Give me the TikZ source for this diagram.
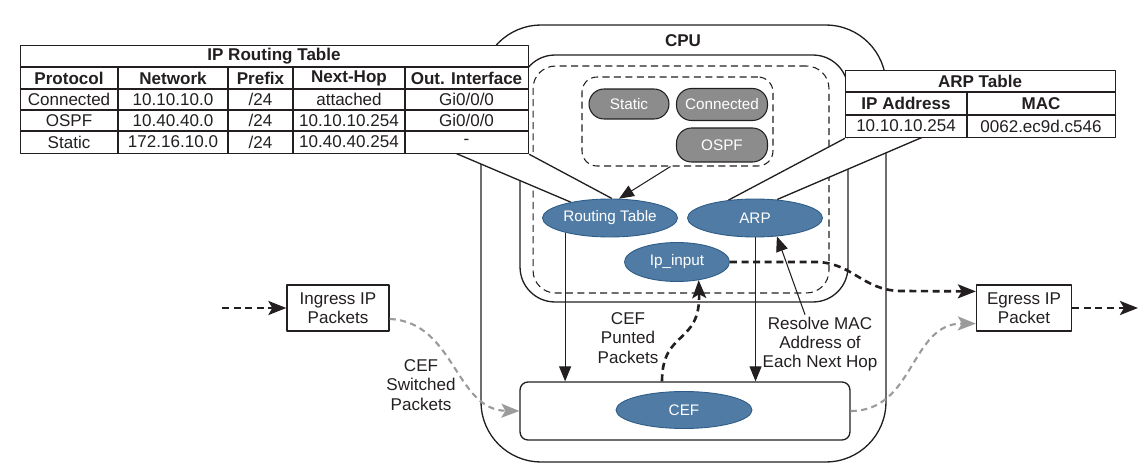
\documentclass[tikz,border=0pt]{standalone}
\usepackage{fontspec}
\setmainfont{Liberation Sans}
\definecolor{cInk}{HTML}{231F20}
\definecolor{cBlue}{HTML}{4F7BA4}
\definecolor{cBlueEdge}{HTML}{2E5C86}
\definecolor{cPill}{HTML}{8C8C8C}
\definecolor{cFlow}{HTML}{9B9B9B}
\usetikzlibrary{arrows.meta, shapes.geometric, backgrounds}
\newcommand{\lbl}{\fontsize{9.7}{11}\selectfont}
\newcommand{\sml}{\fontsize{8.7}{10}\selectfont}

\begin{document}
\begin{tikzpicture}[x=0.02cm, y=-0.02cm, line join=round,
    frame/.style={draw=cInk, line width=0.75pt},
    guide/.style={draw=cInk, line width=0.6pt, dash pattern=on 4pt off 2.5pt},
    blob/.style={ellipse, draw=cBlueEdge, line width=0.5pt, fill=cBlue, text=white, font=\sml, inner sep=0pt},
    pill/.style={draw=cInk, line width=0.6pt, fill=cPill, text=white, font=\sml, rounded corners=0.3cm,
                 minimum width=1.82cm, inner sep=0pt},
    pkt/.style={frame, fill=white, font=\lbl, text=cInk, align=center, inner sep=0pt, minimum height=0.92cm},
    cell/.style={font=\lbl, text=cInk, inner sep=0pt},
    head/.style={font=\lbl\bfseries, text=cInk, inner sep=0pt},
    note/.style={font=\lbl, text=cInk, align=center, inner sep=1pt},
    feed/.style={draw=cInk, line width=0.6pt, -{Triangle[length=0.3cm, width=0.24cm]}},
    flow/.style={draw=cInk, line width=1.5pt, dash pattern=on 4pt off 2.6pt,
                 -{Stealth[length=0.36cm, width=0.28cm, inset=0.08cm]}},
    gflow/.style={draw=cFlow, line width=1.2pt, dash pattern=on 3.5pt off 2.5pt,
                  -{Stealth[length=0.36cm, width=0.28cm, inset=0.08cm]}}]
  \useasboundingbox (0,0) rectangle (1144,466);

  % control plane blobs
  \node[blob, minimum width=2.7cm, minimum height=0.76cm] (rt) at (610,218) {Routing Table};
  \node[blob, minimum width=2.7cm, minimum height=0.76cm] (arp) at (755,218) {ARP};
  \node[blob, minimum width=2.1cm, minimum height=0.78cm] (ipin) at (677,262) {Ip\_input};
  \node[pill, minimum width=1.6cm, minimum height=0.6cm] (static) at (629,104) {Static};
  \node[pill, minimum height=0.64cm] (connected) at (722,104.5) {Connected};
  \node[pill, minimum height=0.68cm] (ospf) at (722,145) {OSPF};
  \node[guide, rounded corners=0.3cm, minimum width=3.82cm, minimum height=1.78cm] (protobox) at (677.5,121.5) {};

  % tables
  \node[frame, fill=white, inner sep=0pt, minimum width=10.16cm, minimum height=2.16cm, anchor=north west] (rtab) at (20,45) {};
  \node[frame, fill=white, inner sep=0pt, minimum width=5.4cm, minimum height=1.34cm, anchor=north west] (atab) at (845,70) {};
  \coordinate (rtfoot) at (455,153);
  \coordinate (arpfoot) at (923,137);

  \begin{pgfonlayer}{background}
    \node[frame, rounded corners=1.2cm, minimum width=8.1cm, minimum height=8.74cm] (cpu) at (683.5,243.5) {};
    \node[frame, rounded corners=0.7cm, minimum width=6.56cm, minimum height=4.94cm] (ctrl) at (684,178.5) {};
    \node[guide, rounded corners=0.45cm, minimum width=5.92cm, minimum height=4.54cm] (plane) at (681,179.5) {};
    % callouts
    \fill[white] (rtfoot) -- (rt.158) -- (rt.84) -- (rtab.south east) -- cycle;
    \draw[frame] (rtfoot) -- (rt.158) (rtab.south east) -- (rt.84);
    \fill[white] (atab.south west) -- (arp.146) -- (arp.40) -- (arpfoot) -- cycle;
    \draw[frame] (atab.south west) -- (arp.146) (arpfoot) -- (arp.40);
  \end{pgfonlayer}

  \node[head] (cpulabel) at (683,41) {CPU};

  % routing table grid
  \draw[frame] (20,67) -- (528,67) (20,89) -- (528,89) (20,110) -- (528,110) (20,131) -- (528,131);
  \foreach \x in {118,228,293,405}
    \draw[frame] (\x,67) -- (\x,153);
  \node[head] (rtitle) at (274,56) {IP Routing Table};
  \foreach \x/\t [count=\c] in {69/Protocol, 173/Network, 260.5/Prefix, 349/Next-Hop, 466.5/Out. Interface}
    \node[head] (rth-\c) at (\x,78) {\t};
  \foreach \y/\pa/\pb/\pc/\pd/\pe [count=\r] in {
      99.5/Connected/10.10.10.0/{/24}/attached/{Gi0/0/0},
      120.5/OSPF/10.40.40.0/{/24}/10.10.10.254/{Gi0/0/0},
      142/Static/172.16.10.0/{/24}/10.40.40.254/-}
  {
    \node[cell] (rt-\r-1) at (69,\y) {\pa};
    \node[cell] (rt-\r-2) at (173,\y) {\pb};
    \node[cell] (rt-\r-3) at (260.5,\y) {\pc};
    \node[cell] (rt-\r-4) at (349,\y) {\pd};
    \node[cell] (rt-\r-5) at (466.5,\y) {\pe};
  }

  % arp table grid
  \draw[frame] (845,92) -- (1115,92) (845,115) -- (1115,115) (967,92) -- (967,137);
  \node[head] (atitle) at (980,81) {ARP Table};
  \node[head] (ath-1) at (906,103.5) {IP Address};
  \node[head] (ath-2) at (1041,103.5) {MAC};
  \node[cell] (at-1) at (906,126) {10.10.10.254};
  \node[cell] (at-2) at (1041,126) {0062.ec9d.c546};

  % data plane
  \node[frame, fill=white, rounded corners=0.16cm, minimum width=6.6cm, minimum height=1.16cm] (cefbox) at (685,411) {};
  \node[blob, minimum width=2.72cm, minimum height=0.74cm] (cef) at (684,410) {CEF};
  \node[pkt, minimum width=2.04cm] (ingress) at (338,308) {Ingress IP\\Packets};
  \node[pkt, minimum width=1.9cm] (egress) at (1024,308) {Egress IP\\Packet};
  \coordinate (inflow) at (222,308);
  \coordinate (outflow) at (1138,308);

  \node[note] (switched) at (421,385) {CEF\\Switched\\Packets};
  \node[note] (punted) at (628,338) {CEF\\Punted\\Packets};
  \node[note] (resolve) at (820,344) {Resolve MAC\\Address of\\Each Next Hop};

  % arrows
  \draw[feed] ([xshift=-0.14cm]protobox.south) -- (rt.65);
  \draw[feed] (rt.198) -- (rt.198 |- cefbox.north);
  \draw[feed] ([xshift=0.3pt]arp.south) -- ([xshift=0.3pt]arp.south |- cefbox.north);
  \draw[feed] ([xshift=-0.3cm]resolve.north) -- (arp.-40);
  \draw[flow] (inflow) -- (ingress);
  \draw[flow] (egress) -- (outflow);
  \draw[flow] ([xshift=-0.46cm]cefbox.north) .. controls +(0,-52) and +(2,65) .. (ipin.-40);
  \draw[flow] (ipin.east) -- (815,262) .. controls (852,262) and (862,290) .. (900,291) -- (egress.161);
  \draw[gflow] (ingress.-12) .. controls (455,322) and (455,410) .. (cefbox.west);
  \draw[gflow] (cefbox.east) .. controls (915,411) and (910,323) .. (egress.198);
\end{tikzpicture}
\end{document}
